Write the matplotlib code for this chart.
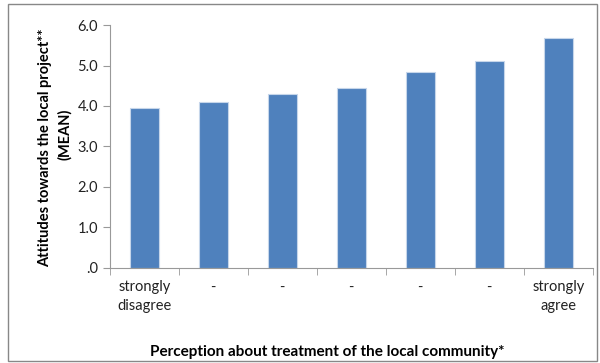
import numpy as np
import matplotlib
matplotlib.use('Agg')
import matplotlib.pyplot as plt
from matplotlib.patches import Rectangle
from matplotlib.ticker import FuncFormatter, FixedLocator

# --- Datos ---
categorias = ['strongly\ndisagree', '-', '-', '-', '-', '-', 'strongly\nagree']
medias = [3.94, 4.09, 4.29, 4.45, 4.84, 5.11, 5.68]
y_ticks = [0, 1, 2, 3, 4, 5, 6]
titulo_y = ['Attitudes towards the local project**', '(MEAN)']
titulo_x = 'Perception about treatment of the local community*'

plt.rcParams['font.family'] = ['Lato', 'DejaVu Sans']

fig = plt.figure(figsize=(6.0, 3.63), dpi=100)
ax = fig.add_axes([0.183, 0.262, 0.805, 0.669])

x = np.arange(len(categorias))
ax.bar(x, medias, width=0.42, color='#4f81bd', edgecolor='#c6d6ea', linewidth=0.8, zorder=2)

ax.set_ylim(0, 6)
ax.set_xlim(-0.5, len(categorias) - 0.5)
ax.set_yticks(y_ticks)
ax.yaxis.set_major_formatter(FuncFormatter(lambda v, p: '.0' if v == 0 else f'{v:.1f}'))

# etiquetas centradas, marcas entre categorias
ax.set_xticks(x)
ax.set_xticklabels(categorias, fontsize=10.5, color='#222222', linespacing=1.45)
ax.tick_params(axis='x', which='major', length=0, pad=9)
ax.xaxis.set_minor_locator(FixedLocator(np.arange(-0.5, len(categorias), 1.0)))
ax.tick_params(axis='x', which='minor', length=5, color='#999999', direction='out')
ax.tick_params(axis='y', length=5, color='#999999', direction='out', labelsize=10.5, labelcolor='#222222')

for lado in ['top', 'right']:
    ax.spines[lado].set_visible(False)
for lado in ['left', 'bottom']:
    ax.spines[lado].set_color('#999999')

# titulos de ejes (cada linea colocada por separado)
for xpos, ypos, linea in zip([0.075, 0.108], [0.592, 0.63], titulo_y):
    fig.text(xpos, ypos, linea, rotation=90, ha='center', va='center',
             fontsize=10.5, fontweight='bold')
fig.text(0.545, 0.03, titulo_x, ha='center', va='center', fontsize=11, fontweight='bold')

# borde del area del grafico
fig.patches.append(Rectangle((0.013, 0.005), 0.982, 0.985, transform=fig.transFigure,
                             fill=False, edgecolor='#888888', linewidth=1.0))

plt.savefig('out.png', dpi=100)
